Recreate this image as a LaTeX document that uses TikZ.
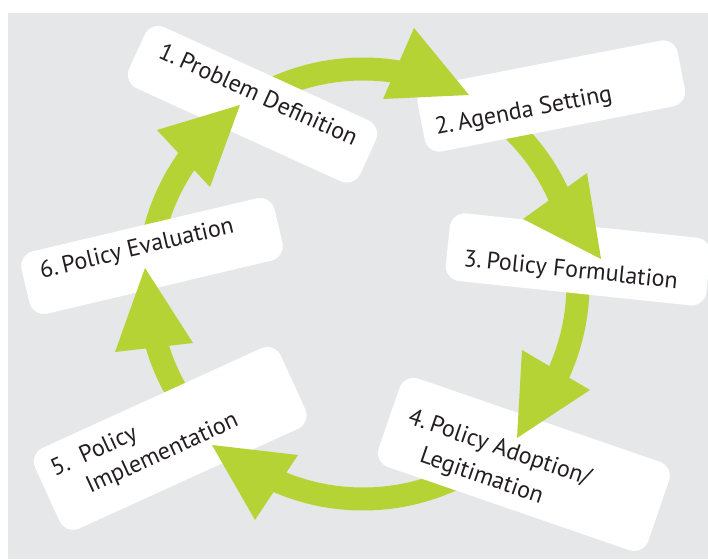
\documentclass[tikz,border=0pt]{standalone}
\usepackage{fontspec}
\setmainfont{PT Sans}
\definecolor{bg}{HTML}{E6E7E8}
\definecolor{lime}{HTML}{B5D335}
\definecolor{ink}{HTML}{231F20}
\begin{document}
\begin{tikzpicture}[x=1pt,y=1pt,
  box/.style={rectangle, fill=white, rounded corners=15pt, inner sep=0pt},
  band/.style={draw=lime, line width=23pt},
  head/.style={fill=lime},
  lbl/.style={text=ink, font=\fontsize{24}{30}\selectfont, inner sep=0pt, anchor=base west}]
\useasboundingbox (0,0) rectangle (708,559);
\fill[bg] (8,0) rectangle (708,546);
\coordinate (C) at (363,275);
% bands
\draw[band] ([shift={(120:215)}]C) arc[start angle=120, end angle=79, radius=215];
\draw[band] ([shift={(55:215)}]C) arc[start angle=55, end angle=22, radius=215];
\draw[band] ([shift={(5:215)}]C) arc[start angle=5, end angle=-26, radius=215];
\draw[band] ([shift={(-60:215)}]C) arc[start angle=-60, end angle=-115, radius=215];
\draw[band] ([shift={(-135:215)}]C) arc[start angle=-135, end angle=-165, radius=215];
\draw[band] ([shift={(170:215)}]C) arc[start angle=170, end angle=143, radius=215];
% boxes
\node[box, minimum width=254pt, minimum height=67pt, rotate=-24.5] (b1) at (252.5,454.7) {};
\node[box, minimum width=265pt, minimum height=67pt, rotate=11] (b2) at (551.2,463) {};
\node[box, minimum width=262pt, minimum height=68pt, rotate=-6] (b3) at (578.1,299.6) {};
\node[box, minimum width=285pt, minimum height=93.5pt, rotate=-19] (b4) at (523.9,94.6) {};
\node[box, minimum width=270pt, minimum height=88.5pt, rotate=24.5] (b5) at (170.2,120.6) {};
\node[box, minimum width=260pt, minimum height=64pt, rotate=13.3] (b6) at (152,303) {};
% heads
\fill[head] (414,531) -- (469,464) -- (383,460) -- cycle;
\fill[head] (587,386) -- (601,300) -- (523,340) -- cycle;
\fill[head] (522,209) -- (590,169) -- (517,121) -- cycle;
\fill[head] (298,104) -- (255,39) -- (212,114) -- cycle;
\fill[head] (193,216) -- (115,207) -- (145,291) -- cycle;
\fill[head] (210,372) -- (157,429) -- (240,454) -- cycle;
% labels
\node[lbl, rotate=-24.5] (t1) at (157,502) {1.\hspace{4.5pt}Problem Definition};
\node[lbl, rotate=11] (t2) at (436.7,424) {2.\hspace{4.5pt}Agenda Setting};
\node[lbl, rotate=-6] (t3) at (463,293) {3.\hspace{4.5pt}Policy Formulation};
\node[lbl, rotate=-19] (t4) at (406.7,135.7) {\begin{tabular}[t]{@{}l@{}}4.\hspace{4.5pt}Policy Adoption/\\[2.5pt]\hspace*{23.5pt}Legitimation\end{tabular}};
\node[lbl, rotate=24.5] (t5) at (55,82.3) {\begin{tabular}[t]{@{}l@{}}5.\hspace{13pt}Policy\\\hspace*{25pt}Implementation\end{tabular}};
\node[lbl, rotate=13.3] (t6) at (41.7,280.7) {6.\hspace{4.5pt}Policy Evaluation};
\end{tikzpicture}
\end{document}
